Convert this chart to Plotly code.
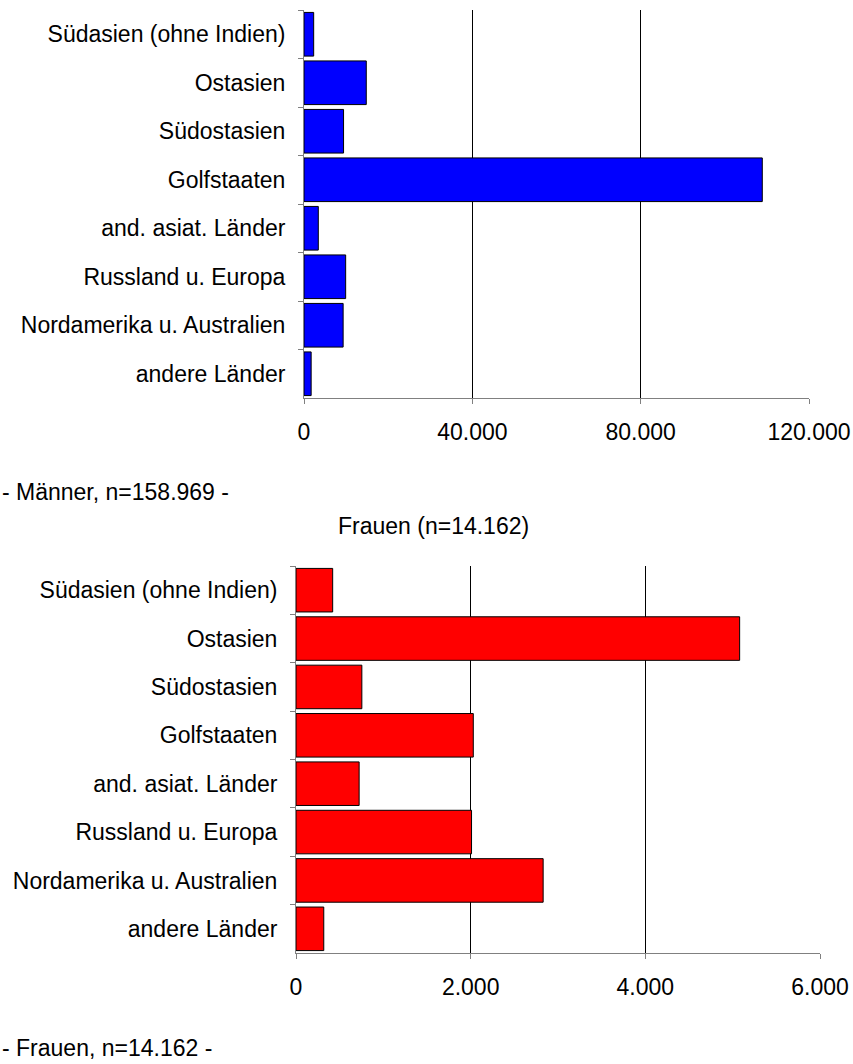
import plotly.graph_objects as go

categories = ["Südasien (ohne Indien)", "Ostasien", "Südostasien", "Golfstaaten",
              "and. asiat. Länder", "Russland u. Europa", "Nordamerika u. Australien",
              "andere Länder"]
men_values = [2300, 14800, 9400, 108900, 3400, 9900, 9300, 1700]
women_values = [420, 5080, 754, 2030, 723, 2010, 2830, 318]

men_ticks = [0, 40000, 80000, 120000]
men_ticktext = ["0", "40.000", "80.000", "120.000"]
women_ticks = [0, 2000, 4000, 6000]
women_ticktext = ["0", "2.000", "4.000", "6.000"]

men_note = "- Männer, n=158.969 -"
women_title = "Frauen (n=14.162)"
women_note = "- Frauen, n=14.162 -"

W, H = 853, 1064
FONT = "Liberation Sans, Arial, sans-serif"
FS = 23

fig = go.Figure()
fig.add_trace(go.Bar(y=categories, x=men_values, orientation="h",
                     marker=dict(color="#0000FF", line=dict(color="#000000", width=1)),
                     xaxis="x", yaxis="y", showlegend=False))
fig.add_trace(go.Bar(y=categories, x=women_values, orientation="h",
                     marker=dict(color="#FF0000", line=dict(color="#000000", width=1)),
                     xaxis="x2", yaxis="y2", showlegend=False))

def py(px):
    return 1 - px / H

def xax(domain, rng, tv, tt):
    return dict(domain=domain, range=rng, tickvals=tv, ticktext=tt,
                showgrid=True, gridcolor="#000000", gridwidth=1,
                showline=True, linecolor="#808080", linewidth=1,
                ticks="outside", ticklen=5, tickcolor="#808080",
                ticklabelstandoff=8, zeroline=False, fixedrange=True,
                automargin=False,
                tickfont=dict(family=FONT, size=FS, color="#000000"))

def yax(domain, anchor):
    return dict(domain=domain, anchor=anchor, type="category", autorange="reversed",
                showline=True, linecolor="#808080", linewidth=1,
                ticks="outside", ticklen=5, tickcolor="#808080", tickson="boundaries",
                ticklabelstandoff=13, showgrid=False, zeroline=False, fixedrange=True,
                automargin=False,
                tickfont=dict(family=FONT, size=FS, color="#000000"))

fig.update_layout(
    width=W, height=H,
    margin=dict(l=0, r=0, t=0, b=0, pad=0),
    paper_bgcolor="white", plot_bgcolor="white",
    bargap=0.1,
    font=dict(family=FONT, size=FS, color="#000000"),
    xaxis=dict(anchor="y", **xax([304 / W, 809 / W], [0, 120000], men_ticks, men_ticktext)),
    yaxis=yax([py(398), py(10)], "x"),
    xaxis2=dict(anchor="y2", **xax([296 / W, 820 / W], [0, 6000], women_ticks, women_ticktext)),
    yaxis2=yax([py(953), py(566)], "x2"),
    annotations=[
        dict(text=men_note, x=0, y=py(492), xref="paper", yref="paper",
             xanchor="left", yanchor="middle", showarrow=False,
             font=dict(family=FONT, size=FS, color="#000000")),
        dict(text=women_title, x=433 / W, y=py(526), xref="paper", yref="paper",
             xanchor="center", yanchor="middle", showarrow=False,
             font=dict(family=FONT, size=FS, color="#000000")),
        dict(text=women_note, x=0, y=py(1048), xref="paper", yref="paper",
             xanchor="left", yanchor="middle", showarrow=False,
             font=dict(family=FONT, size=FS, color="#000000")),
    ],
)

fig.write_html("out.html", config={"displayModeBar": False},
               post_script="document.body.style.margin='0';document.body.style.overflow='hidden';")
